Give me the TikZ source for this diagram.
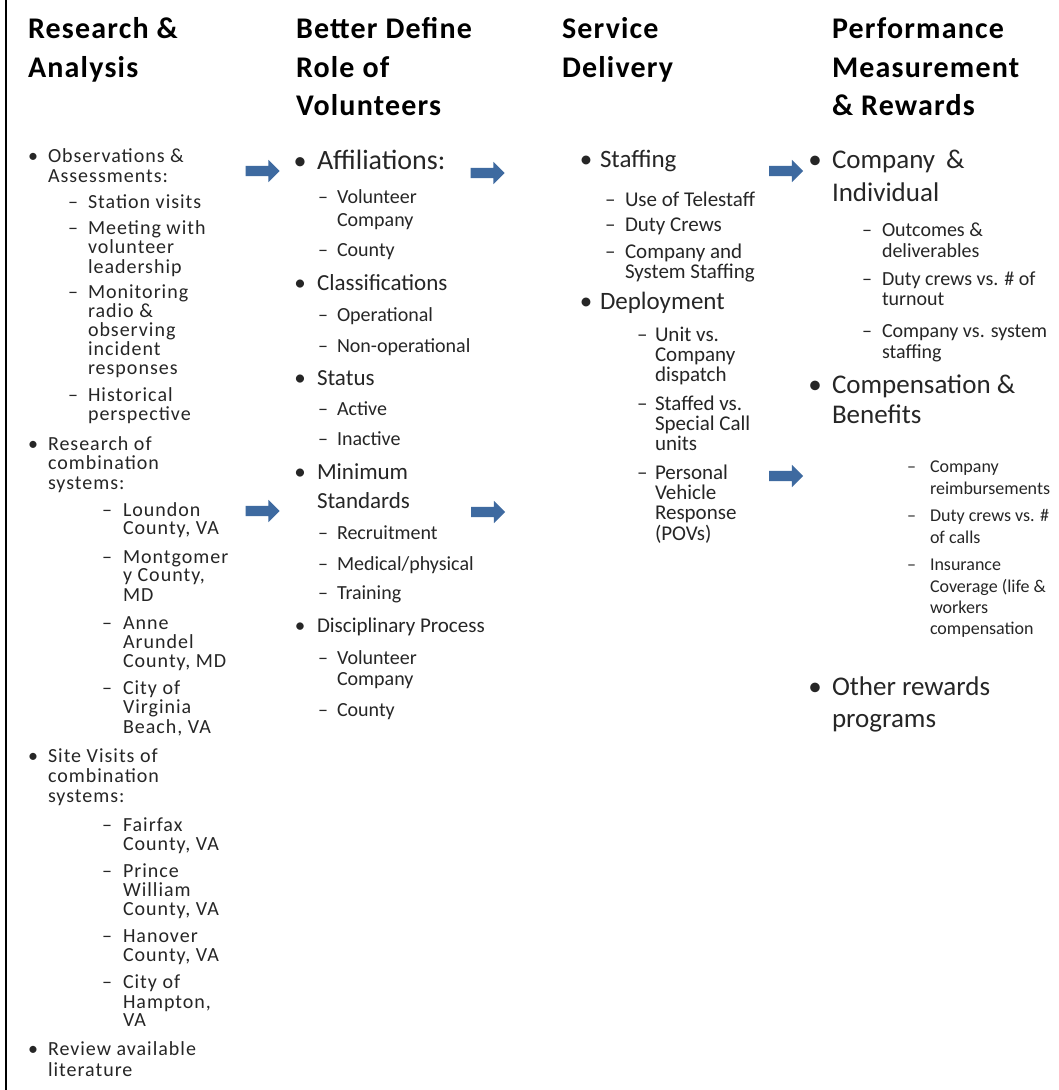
\documentclass[tikz,border=0pt]{standalone}
\usepackage{fontspec}
\setmainfont{Carlito}
\newfontfamily\spaced{Carlito}[LetterSpace=5]
\newfontfamily\titlefont{Carlito}[LetterSpace=4]
\usetikzlibrary{shapes.arrows}
\definecolor{arrowblue}{RGB}{62,106,160}
\definecolor{bodytext}{HTML}{262626}
\newcounter{lc}
\newcommand\fs[1]{\fontsize{#1}{#1}\selectfont}
% text line: size, x, y(baseline), text
\newcommand\tline[4]{\stepcounter{lc}\node[tl,font=\fs{#1}] (t\arabic{lc}) at (#2,#3) {#4};}
% column-one text line (slightly tracked): x, y, text
\newcommand\coltxt[3]{\stepcounter{lc}\node[tl,font=\spaced\fs{20}] (c\arabic{lc}) at (#1,#2) {#3};}
% bullet: size, x(center), y(baseline)
\newcommand\bul[3]{\stepcounter{lc}\node[bl,font=\fs{#1}] (b\arabic{lc}) at (#2,#3) {\textbullet};}
% dash: size, x, y
\newcommand\dsh[3]{\stepcounter{lc}\node[tl,font=\fs{#1}] (d\arabic{lc}) at (#2,#3) {–};}
\newcommand\ttl[3]{\stepcounter{lc}\node[tl,text=black,font=\titlefont\fs{30}\bfseries] (h\arabic{lc}) at (#1,#2) {#3};}
\begin{document}
\begin{tikzpicture}[x=1pt,y=-1pt,
  tl/.style={anchor=base west,inner sep=0pt,outer sep=0pt,text=bodytext},
  bl/.style={anchor=base,inner sep=0pt,outer sep=0pt,text=bodytext},
  barrow/.style={single arrow,fill=arrowblue,draw=none,minimum height=34pt,
    single arrow head extend=6pt,inner xsep=0pt,inner ysep=5pt}]
\useasboundingbox (0,0) rectangle (1059,1090);
\fill[white] (0,0) rectangle (1059,1090);
\draw[line width=2pt,black] (5.5,0) -- (5.5,1090);

% ---------- titles
\ttl{28}{38}{Research \&}
\ttl{28}{77}{Analysis}
\ttl{296}{38}{Better Define}
\ttl{296}{77}{Role of}
\ttl{296}{115}{Volunteers}
\ttl{562}{38}{Service}
\ttl{562}{77}{Delivery}
\ttl{832}{38}{Performance}
\ttl{832}{77}{Measurement}
\ttl{832}{115}{\& Rewards}

% ---------- column 1
\bul{20}{33}{162}
\coltxt{48}{162}{Observations \&}
\coltxt{48}{182}{Assessments:}
\dsh{20}{68}{208}\coltxt{88}{208}{Station visits}
\dsh{20}{68}{234}\coltxt{88}{234}{Meeting with}
\coltxt{88}{253}{volunteer}
\coltxt{88}{273}{leadership}
\dsh{20}{68}{298}\coltxt{88}{298}{Monitoring}
\coltxt{88}{317}{radio \&}
\coltxt{88}{336}{observing}
\coltxt{88}{355}{incident}
\coltxt{88}{374}{responses}
\dsh{20}{68}{401}\coltxt{88}{401}{Historical}
\coltxt{88}{420}{perspective}
\bul{20}{33}{450}
\coltxt{48}{450}{Research of}
\coltxt{48}{469}{combination}
\coltxt{48}{489}{systems:}
\dsh{20}{102}{516}\coltxt{123}{516}{Loundon}
\coltxt{123}{534}{County, VA}
\dsh{20}{102}{563}\coltxt{123}{563}{Montgomer}
\coltxt{123}{581}{y County,}
\coltxt{123}{601}{MD}
\dsh{20}{102}{629}\coltxt{123}{629}{Anne}
\coltxt{123}{648}{Arundel}
\coltxt{123}{667}{County, MD}
\dsh{20}{102}{694}\coltxt{123}{694}{City of}
\coltxt{123}{713}{Virginia}
\coltxt{123}{733}{Beach, VA}
\bul{20}{33}{762}
\coltxt{48}{762}{Site Visits of}
\coltxt{48}{782}{combination}
\coltxt{48}{802}{systems:}
\dsh{20}{102}{831}\coltxt{123}{831}{Fairfax}
\coltxt{123}{850}{County, VA}
\dsh{20}{102}{877}\coltxt{123}{877}{Prince}
\coltxt{123}{896}{William}
\coltxt{123}{915}{County, VA}
\dsh{20}{102}{942}\coltxt{123}{942}{Hanover}
\coltxt{123}{961}{County, VA}
\dsh{20}{102}{988}\coltxt{123}{988}{City of}
\coltxt{123}{1008}{Hampton,}
\coltxt{123}{1026}{VA}
\bul{20}{33}{1055}
\coltxt{48}{1055}{Review available}
\coltxt{48}{1076}{literature}

% ---------- column 2
\bul{26}{300}{169}
\tline{28}{317}{169}{Affiliations:}
\dsh{20}{318}{203}\tline{20}{337}{203}{Volunteer}
\tline{20}{337}{226}{Company}
\dsh{20}{318}{256}\tline{20}{337}{256}{County}
\bul{23}{300}{290}
\tline{23}{317}{290}{Classifications}
\dsh{20}{318}{321}\tline{20}{337}{321}{Operational}
\dsh{20}{318}{352}\tline{20}{337}{352}{Non-operational}
\bul{23}{300}{385}
\tline{23}{317}{385}{Status}
\dsh{20}{318}{415}\tline{20}{337}{415}{Active}
\dsh{20}{318}{445}\tline{20}{337}{445}{Inactive}
\bul{23}{300}{479}
\tline{23}{317}{479}{Minimum}
\tline{23}{317}{508}{Standards}
\dsh{20}{318}{539}\tline{20}{337}{539}{Recruitment}
\dsh{20}{318}{570}\tline{20}{337}{570}{Medical/physical}
\dsh{20}{318}{599}\tline{20}{337}{599}{Training}
\bul{21}{300}{632}
\tline{21}{317}{632}{Disciplinary Process}
\dsh{20}{318}{664}\tline{20}{337}{664}{Volunteer}
\tline{20}{337}{685}{Company}
\dsh{20}{318}{716}\tline{20}{337}{716}{County}

% ---------- column 3
\bul{25}{586}{167}
\tline{25}{600}{167}{Staffing}
\dsh{21}{605}{206}\tline{21}{625}{206}{Use of Telestaff}
\dsh{21}{605}{231}\tline{21}{625}{231}{Duty Crews}
\dsh{21}{605}{258}\tline{21}{625}{258}{Company and}
\tline{21}{625}{278}{System Staffing}
\bul{25}{586}{309}
\tline{25}{600}{309}{Deployment}
\dsh{21}{637}{341}\tline{21}{655}{341}{Unit vs.}
\tline{21}{655}{361}{Company}
\tline{21}{655}{381}{dispatch}
\dsh{21}{637}{410}\tline{21}{655}{410}{Staffed vs.}
\tline{21}{655}{430}{Special Call}
\tline{21}{655}{450}{units}
\dsh{21}{637}{479}\tline{21}{655}{479}{Personal}
\tline{21}{655}{499}{Vehicle}
\tline{21}{655}{519}{Response}
\tline{21}{655}{540}{(POVs)}

% ---------- column 4
\bul{27}{815}{168}
\tline{27}{832}{168}{Company\hspace{11pt}\&}
\tline{27}{832}{201}{Individual}
\dsh{20}{862}{236}\tline{20}{882}{236}{Outcomes \&}
\tline{20}{882}{257}{deliverables}
\dsh{20}{862}{285}\tline{20}{882}{285}{Duty crews vs. \# of}
\tline{20}{882}{305}{turnout}
\dsh{20}{862}{337}\tline{20}{882}{337}{Company vs. system}
\tline{20}{882}{358}{staffing}
\bul{27}{815}{393}
\tline{27}{832}{393}{Compensation \&}
\tline{27}{832}{423}{Benefits}
\dsh{18}{907}{472}\tline{18}{930}{472}{Company}
\tline{18}{930}{494}{reimbursements}
\dsh{18}{907}{521}\tline{18}{930}{521}{Duty crews vs. \#}
\tline{18}{930}{543}{of calls}
\dsh{18}{907}{570}\tline{18}{930}{570}{Insurance}
\tline{18}{930}{592}{Coverage (life \&}
\tline{18}{930}{613}{workers}
\tline{18}{930}{634}{compensation}
\bul{27}{815}{695}
\tline{27}{832}{695}{Other rewards}
\tline{27}{832}{727}{programs}

% ---------- arrows
\node[barrow] (a1) at (260,171) {};
\node[barrow] (a2) at (485,173) {};
\node[barrow] (a3) at (783.5,171) {};
\node[barrow] (a4) at (260,511) {};
\node[barrow] (a5) at (485.5,512) {};
\node[barrow] (a6) at (783.5,476) {};
\end{tikzpicture}
\end{document}
